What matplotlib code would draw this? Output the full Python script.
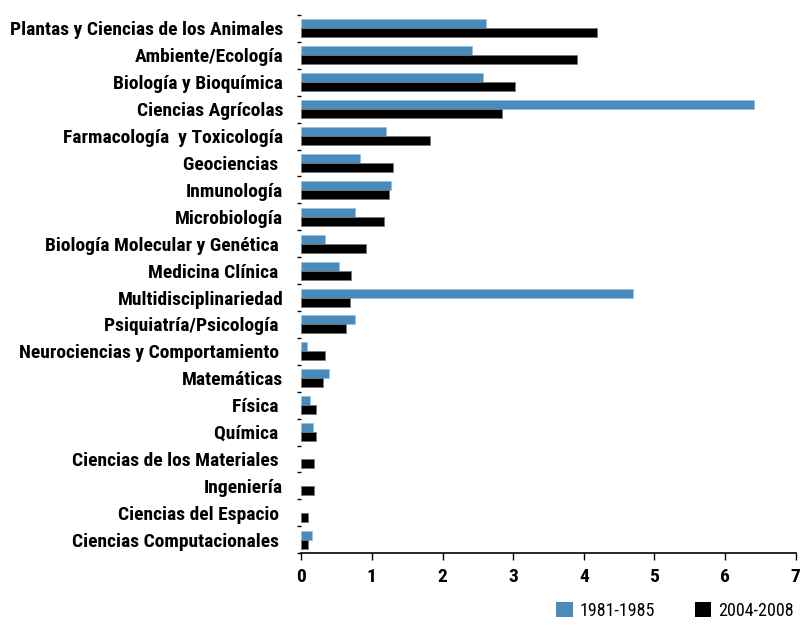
import numpy as np
import matplotlib
matplotlib.use('Agg')
import matplotlib.pyplot as plt
from matplotlib import font_manager
from matplotlib.patches import Patch

# pick a condensed sans that is installed
have = {f.name for f in font_manager.fontManager.ttflist}
narrow = [n for n in ['Roboto Condensed', 'Archivo Narrow', 'PT Sans Narrow', 'Liberation Sans Narrow'] if n in have]
plt.rcParams['font.family'] = narrow[:1] + ['DejaVu Sans']

categories = ['Plantas y Ciencias de los Animales', 'Ambiente/Ecología', 'Biología y Bioquímica',
              'Ciencias Agrícolas', 'Farmacología  y Toxicología', 'Geociencias ', 'Inmunología',
              'Microbiología', 'Biología Molecular y Genética ', 'Medicina Clínica ',
              'Multidisciplinariedad', 'Psiquiatría/Psicología ', 'Neurociencias y Comportamiento ',
              'Matemáticas', 'Física ', 'Química ', 'Ciencias de los Materiales ', 'Ingeniería',
              'Ciencias del Espacio ', 'Ciencias Computacionales ']
v_1981 = [2.62, 2.42, 2.57, 6.41, 1.20, 0.83, 1.27, 0.76, 0.33, 0.54,
          4.69, 0.76, 0.08, 0.39, 0.13, 0.16, 0.0, 0.0, 0.0, 0.15]
v_2004 = [4.19, 3.91, 3.02, 2.84, 1.82, 1.30, 1.24, 1.17, 0.92, 0.71,
          0.69, 0.63, 0.34, 0.31, 0.21, 0.21, 0.18, 0.18, 0.10, 0.10]
xticks = [0, 1, 2, 3, 4, 5, 6, 7]

blue = '#4a8bbd'
fig = plt.figure(figsize=(8.12, 6.25), dpi=100)
ax = fig.add_axes([0.371, 0.115, 0.609, 0.861])

y = np.arange(len(categories))
h = 0.335
# no outline on empty bars
lw1 = [0.6 if v > 0 else 0 for v in v_1981]
lw2 = [0.6 if v > 0 else 0 for v in v_2004]
ax.barh(y - h / 2, v_1981, height=h, color=blue, edgecolor='#9cc0dc', linewidth=lw1)
ax.barh(y + h / 2, v_2004, height=h, color='black', edgecolor='#777777', linewidth=lw2)

ax.set_ylim(len(categories) - 0.5, -0.5)
ax.set_xlim(0, 7)
ax.set_yticks(y)
ax.set_yticklabels(categories, fontsize=14, fontweight='bold')
ax.set_yticks(np.arange(len(categories) + 1) - 0.5, minor=True)
ax.tick_params(axis='y', which='major', length=0, pad=13)
ax.tick_params(axis='y', which='minor', length=3, width=1, color='black', left=True)
ax.set_xticks(xticks)
ax.set_xticklabels([str(t) for t in xticks], fontsize=14, fontweight='bold')
ax.tick_params(axis='x', length=5, width=1, pad=6)

for s in ['top', 'right', 'left']:
    ax.spines[s].set_visible(False)
ax.spines['bottom'].set_linewidth(1.2)

handles = [Patch(facecolor=blue, label='1981-1985'), Patch(facecolor='black', label='2004-2008')]
fig.legend(handles=handles, loc='lower right', bbox_to_anchor=(0.998, -0.018), ncol=2, frameon=False,
           fontsize=13, handlelength=0.9, handleheight=0.9, handletextpad=0.4, columnspacing=2.2)

fig.savefig('out.png', dpi=100)
